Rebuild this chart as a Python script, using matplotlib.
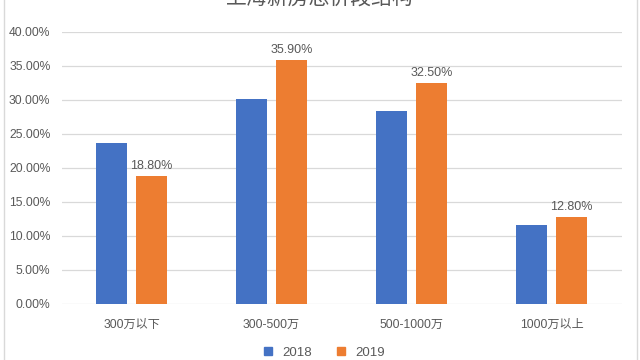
import numpy as np
import matplotlib.pyplot as plt
from matplotlib.lines import Line2D

plt.rcParams['font.family'] = ['Liberation Sans', 'Noto Sans CJK SC', 'DejaVu Sans']

title = '上海新房总价段结构'
categories = ['300万以下', '300-500万', '500-1000万', '1000万以上']
series_names = ['2018', '2019']
values_2018 = [23.7, 30.1, 28.4, 11.6]
values_2019 = [18.8, 35.9, 32.5, 12.8]

blue = '#4472c4'
orange = '#ed7d31'
text_gray = '#595959'
grid_gray = '#d9d9d9'

fig = plt.figure(figsize=(6.4, 3.6), dpi=100)
ax = fig.add_axes([61.5 / 640, 56 / 360, 560 / 640, 272 / 360])

x = np.arange(len(categories))
w = 0.22
off = 0.143
ax.bar(x - off, values_2018, w, color=blue, zorder=3)
bars19 = ax.bar(x + off, values_2019, w, color=orange, zorder=3)

# data labels only on the 2019 series
for b, v in zip(bars19, values_2019):
    ax.annotate(f'{v:.2f}%', (b.get_x() + b.get_width() / 2, v),
                xytext=(0, 3), textcoords='offset points',
                ha='center', va='bottom', fontsize=9, color=text_gray)

ax.set_xlim(-0.5, len(categories) - 0.5)
ax.set_ylim(0, 40)
ax.set_yticks(np.arange(0, 41, 5))
ax.set_yticklabels([f'{t:.2f}%' for t in np.arange(0, 41, 5)])
ax.set_xticks(x)
ax.set_xticklabels(categories)
ax.tick_params(length=0, labelsize=8.7, colors=text_gray)
ax.tick_params(axis='x', pad=11)
ax.tick_params(axis='y', pad=8)
ax.yaxis.grid(True, color=grid_gray, linewidth=0.9, zorder=0)
for s in ax.spines.values():
    s.set_visible(False)

fig.text(0.5, 1.004, title, ha='center', va='center', fontsize=15, color=text_gray)

handles = [Line2D([], [], marker='s', linestyle='none', markersize=6, color=c)
           for c in (blue, orange)]
fig.legend(handles, series_names, loc='center', bbox_to_anchor=(0.5, 0.02),
           ncol=2, frameon=False, fontsize=9.5, handletextpad=0.1,
           columnspacing=1.2, labelcolor=text_gray)

# chart frame edges
fig.add_artist(Line2D([3.5 / 640, 3.5 / 640], [0, 1], color=grid_gray, linewidth=1))
fig.add_artist(Line2D([636.5 / 640, 636.5 / 640], [0, 1], color=grid_gray, linewidth=1))

fig.savefig('out.png', dpi=100)
